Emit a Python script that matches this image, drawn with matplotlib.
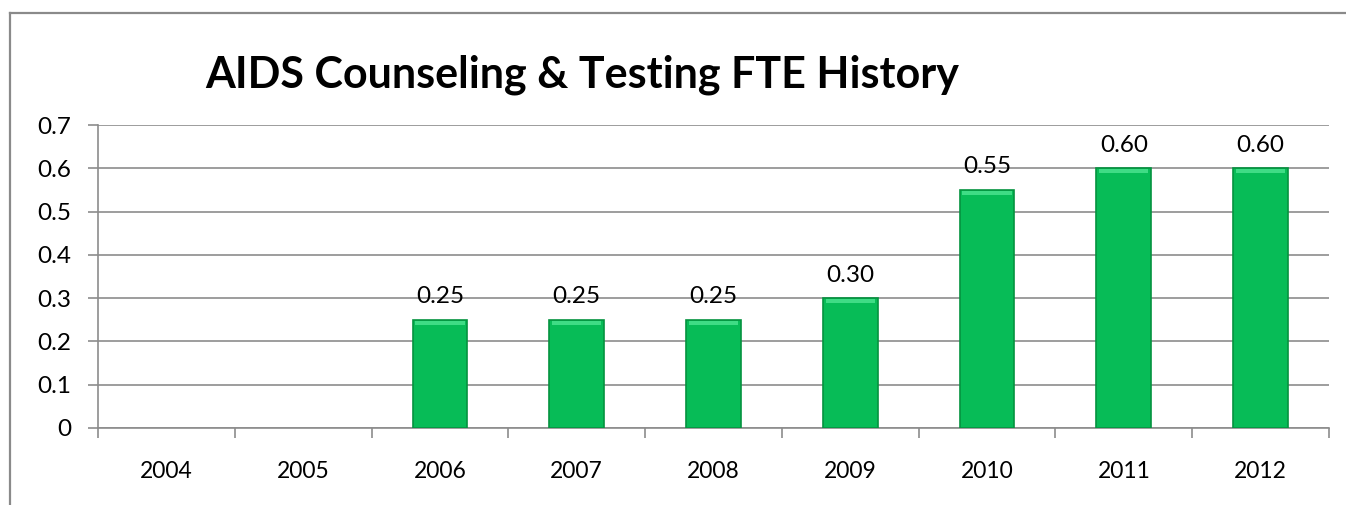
import matplotlib
matplotlib.use("Agg")
import matplotlib.pyplot as plt
from matplotlib.lines import Line2D
import numpy as np

years = ["2004", "2005", "2006", "2007", "2008", "2009", "2010", "2011", "2012"]
fte = [0, 0, 0.25, 0.25, 0.25, 0.30, 0.55, 0.60, 0.60]
yticks = [0, 0.1, 0.2, 0.3, 0.4, 0.5, 0.6, 0.7]
title = "AIDS Counseling & Testing FTE History"

plt.rcParams['font.family'] = ['Lato', 'DejaVu Sans']

W, H = 1346, 505
fig = plt.figure(figsize=(W / 100, H / 100), dpi=100)
ax = fig.add_axes([98 / W, 1 - 428 / H, (1329 - 98) / W, (428 - 125) / H])

grid_c = '#8c8c8c'
x = np.arange(len(years))
bars = ax.bar(x, fte, width=0.4, color='#07BC57', edgecolor='#05933f', linewidth=1.2, zorder=3)
for b in bars:
    bx, bw, bh = b.get_x(), b.get_width(), b.get_height()
    if bh > 0:
        ax.fill_between([bx + 0.02, bx + bw - 0.02], bh - 0.012, bh - 0.002,
                        color='#3fdc85', zorder=4, linewidth=0)
    else:
        b.set_visible(False)

for xi, v in zip(x, fte):
    if v > 0:
        ax.annotate(f"{v:.2f}", (xi, v), xytext=(0, 9), textcoords='offset points',
                    ha='center', va='bottom', fontsize=17.5, color='black', zorder=5)

ax.set_xlim(-0.5, len(years) - 0.5)
ax.set_ylim(0, 0.7)
ax.set_yticks(yticks)
ax.set_yticklabels([f"{t:g}" for t in yticks], fontsize=17.5)
ax.set_xticks(x)
ax.set_xticklabels(years, fontsize=16.5)
ax.set_xticks(np.arange(-0.5, len(years), 1.0), minor=True)
ax.tick_params(axis='x', which='major', length=0, pad=24)
ax.tick_params(axis='x', which='minor', length=7, color=grid_c, width=1.2)
ax.tick_params(axis='y', length=7, color=grid_c, width=1.2, pad=12)

ax.yaxis.grid(True, color=grid_c, linewidth=1.2, zorder=0)
ax.set_axisbelow(True)
for s in ['top', 'right']:
    ax.spines[s].set_visible(False)
for s in ['left', 'bottom']:
    ax.spines[s].set_color(grid_c)
    ax.spines[s].set_linewidth(1.2)

fig.text(582 / W, 1 - 75 / H, title, ha='center', va='center',
         fontsize=31, fontweight='bold', color='black')

fig.add_artist(Line2D([10 / W, 1], [1 - 13 / H, 1 - 13 / H], transform=fig.transFigure,
                      color='#8a8a8a', linewidth=1.6))
fig.add_artist(Line2D([10 / W, 10 / W], [0, 1 - 13 / H], transform=fig.transFigure,
                      color='#8a8a8a', linewidth=1.6))

fig.savefig("out.png", dpi=100)
